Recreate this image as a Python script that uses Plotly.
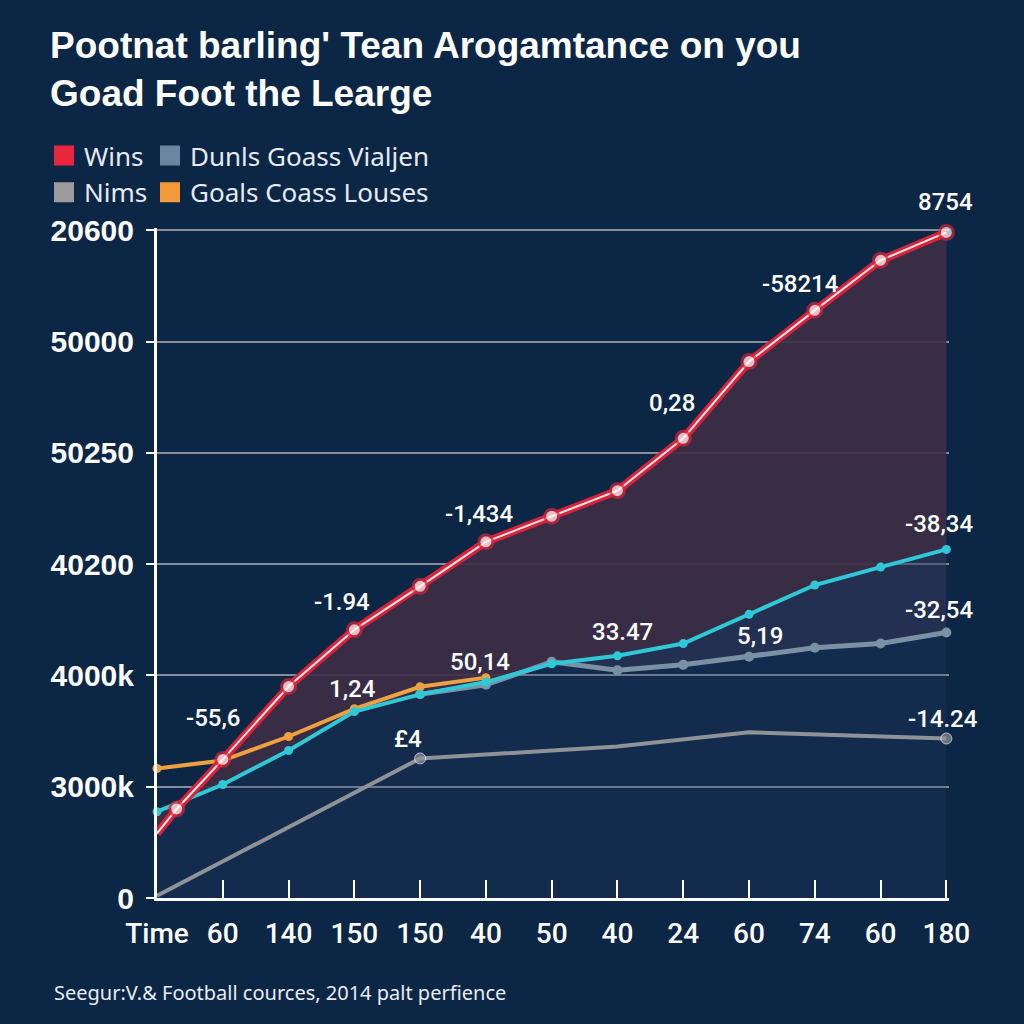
import plotly.graph_objects as go

# ---------------- data ----------------
x_labels = ["Time", "60", "140", "150", "150", "40", "50", "40", "24", "60", "74", "60", "180"]
y_tick_labels = ["0", "3000k", "4000k", "40200", "50250", "50000", "20600"]

wins_x = [0, 0.3, 1, 2, 3, 4, 5, 6, 7, 8, 9, 10, 11, 12]
wins_y = [0.58, 0.80, 1.245, 1.90, 2.41, 2.80, 3.20, 3.43, 3.66, 4.13, 4.82, 5.28, 5.73, 5.98]

cyan_x = [0, 1, 2, 3, 4, 5, 6, 7, 8, 9, 10, 11, 12]
cyan_y = [0.775, 1.02, 1.325, 1.675, 1.83, 1.94, 2.105, 2.176, 2.286, 2.549, 2.812, 2.973, 3.132]

dunls_x = [4, 5, 6, 7, 8, 9, 10, 11, 12]
dunls_y = [1.83, 1.916, 2.122, 2.046, 2.095, 2.168, 2.248, 2.286, 2.385]

goals_x = [0, 1, 2, 3, 4, 5]
goals_y = [1.164, 1.236, 1.451, 1.70, 1.898, 1.98]

nims_x = [0, 4, 7, 9, 12]
nims_y = [0.02, 1.254, 1.361, 1.489, 1.433]

# value labels: (series, point index, text, x shift, y shift)
labels = [
    ("wins", 2, "-55,6", -10, 41),
    ("wins", 4, "-1.94", -12, 28),
    ("wins", 6, "-1,434", -7, 28),
    ("wins", 9, "0,28", -11, 35),
    ("wins", 11, "-58214", -14, 26),
    ("wins", 13, "8754", -1, 30),
    ("cyan", 3, "1,24", -2, 23),
    ("cyan", 5, "50,14", -6, 20),
    ("nims", 1, "£4", -12, 19),
    ("cyan", 7, "33.47", 5, 24),
    ("dunls", 5, "5,19", 11, 21),
    ("cyan", 12, "-38,34", -7, 25),
    ("dunls", 8, "-32,54", -7, 23),
    ("nims", 4, "-14.24", -3, 20),
]

series = {
    "wins": (wins_x, wins_y),
    "cyan": (cyan_x, cyan_y),
    "dunls": (dunls_x, dunls_y),
    "goals": (goals_x, goals_y),
    "nims": (nims_x, nims_y),
}

# ---------------- style ----------------
BG = "#0c2646"
RED = "#d9233a"
CYAN = "#2fc8d6"
ORANGE = "#efa040"
DUNLS = "#7a90a4"
NIMS = "#8f9398"

fig = go.Figure()

# fills (drawn first, beneath lines)
fig.add_trace(go.Scatter(x=dunls_x, y=dunls_y, mode="lines", line=dict(width=0),
                         showlegend=False, hoverinfo="skip"))
fig.add_trace(go.Scatter(x=cyan_x[4:], y=cyan_y[4:], mode="lines", line=dict(width=0),
                         fill="tonexty", fillcolor="rgba(70,55,85,0.4)",
                         showlegend=False, hoverinfo="skip"))
fig.add_trace(go.Scatter(x=cyan_x, y=cyan_y, mode="lines", line=dict(width=0),
                         fill="tozeroy", fillcolor="rgba(40,60,95,0.25)",
                         showlegend=False, hoverinfo="skip"))
fig.add_trace(go.Scatter(x=wins_x, y=wins_y, mode="lines", line=dict(width=0),
                         fill="tonexty", fillcolor="rgba(62,46,70,0.92)",
                         showlegend=False, hoverinfo="skip"))

# lines
fig.add_trace(go.Scatter(x=nims_x, y=nims_y, mode="lines+markers",
                         line=dict(color=NIMS, width=4),
                         marker=dict(color=NIMS, size=[0, 11, 0, 0, 11]),
                         showlegend=False, cliponaxis=False))
fig.add_trace(go.Scatter(x=dunls_x, y=dunls_y, mode="lines+markers",
                         line=dict(color=DUNLS, width=5),
                         marker=dict(color=DUNLS, size=10),
                         showlegend=False, cliponaxis=False))
fig.add_trace(go.Scatter(x=goals_x, y=goals_y, mode="lines+markers",
                         line=dict(color=ORANGE, width=4),
                         marker=dict(color=ORANGE, size=9),
                         showlegend=False, cliponaxis=False))
fig.add_trace(go.Scatter(x=cyan_x, y=cyan_y, mode="lines+markers",
                         line=dict(color=CYAN, width=4),
                         marker=dict(color=CYAN, size=9),
                         showlegend=False, cliponaxis=False))
fig.add_trace(go.Scatter(x=wins_x, y=wins_y, mode="lines",
                         line=dict(color=RED, width=8),
                         showlegend=False, cliponaxis=False))
fig.add_trace(go.Scatter(x=wins_x, y=wins_y, mode="lines+markers",
                         line=dict(color="#ffe9ec", width=2),
                         marker=dict(color="white", size=[0] + [14] * (len(wins_x) - 1),
                                     line=dict(color=RED, width=3)),
                         showlegend=False, cliponaxis=False))

# legend entries
legend_items = [
    ("Wins", "#e8263c", "legend"),
    ("Nims", "#9b9b9b", "legend"),
    ("Dunls Goass Vialjen", "#6b86a0", "legend2"),
    ("Goals Coass Louses", "#f39a3a", "legend2"),
]
for name, col, lg in legend_items:
    fig.add_trace(go.Scatter(x=[None], y=[None], mode="markers", name=name,
                             marker=dict(symbol="square", size=16, color=col,
                                         line=dict(color=col, width=4)),
                             legend=lg))

annotations = []
for key, idx, text, dx, dy in labels:
    sx, sy = series[key]
    annotations.append(dict(x=sx[idx], y=sy[idx], xref="x", yref="y", text=text,
                            showarrow=False, xshift=dx, yshift=dy,
                            font=dict(family="Roboto", size=24, color="white", weight=500)))

plot_w = 1024 - 157 - 75
plot_h = 1024 - 228 - 126
annotations.append(dict(
    x=(52 - 157) / plot_w, y=(898 - 992) / plot_h, xref="paper", yref="paper",
    xanchor="left", yanchor="middle", showarrow=False,
    text="Seegur:V.& Football cources, 2014 palt perfience",
    font=dict(family="Noto Sans", size=20, color="#e8edf3")))

legend_common = dict(
    orientation="v", xref="container", yref="container", xanchor="left", yanchor="top",
    bgcolor="rgba(0,0,0,0)", borderwidth=0, traceorder="normal",
    font=dict(family="Noto Sans", size=26, color="#e6ebf2"),
    itemclick=False, itemdoubleclick=False,
)

fig.update_layout(
    width=1024, height=1024,
    paper_bgcolor=BG, plot_bgcolor=BG,
    margin=dict(l=157, r=75, t=228, b=126, autoexpand=False),
    title=dict(text="Pootnat barling' Tean Arogamtance on you<br>Goad Foot the Learge",
               x=50 / 1024, xanchor="left", xref="container",
               y=1 - 58 / 1024, yref="container", yanchor="top",
               font=dict(family="Liberation Sans", size=37, color="white", weight="bold")),
    legend=dict(x=44 / 1024, y=1 - 132 / 1024, **legend_common),
    legend2=dict(x=150 / 1024, y=1 - 132 / 1024, **legend_common),
    annotations=annotations,
    hovermode=False,
    xaxis=dict(range=[0, 12.04], tickmode="array", tickvals=list(range(13)), ticktext=x_labels,
               ticks="inside", ticklen=18, tickwidth=2, tickcolor="white",
               showline=True, linecolor="white", linewidth=3,
               showgrid=False, zeroline=False, ticklabelstandoff=8,
               tickfont=dict(family="Roboto", size=28, color="white", weight=500)),
    yaxis=dict(range=[0, 6.02], tickmode="array", tickvals=list(range(7)), ticktext=y_tick_labels,
               ticks="outside", ticklen=8, tickwidth=2, tickcolor="white",
               showline=True, linecolor="white", linewidth=3,
               showgrid=True, gridcolor="#878c96", gridwidth=2, zeroline=False,
               ticklabelstandoff=6,
               tickfont=dict(family="Liberation Sans", size=30, color="white", weight="bold")),
)

fig.write_html("out.html", config={"displayModeBar": False},
               post_script="document.body.style.margin='0';document.body.style.overflow='hidden';")
